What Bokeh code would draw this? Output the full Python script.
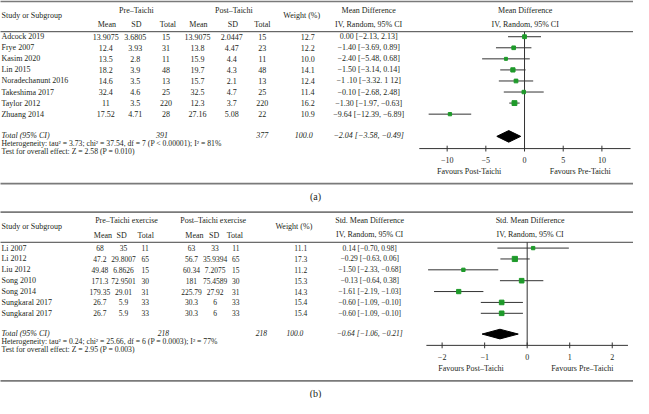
from bokeh.plotting import figure
from bokeh.models import Range1d
from bokeh.core.properties import value
from bokeh.embed import file_html
from bokeh.resources import INLINE

# ---------------- Panel (a) data ----------------
studies_a = ["Adcock 2019", "Frye 2007", "Kasim 2020", "Lin 2015", "Noradechanunt 2016",
             "Takeshima 2017", "Taylor 2012", "Zhuang 2014"]
pre_mean_a = [13.9075, 12.4, 13.5, 18.2, 14.6, 32.4, 11, 17.52]
pre_sd_a = [3.6805, 3.93, 2.8, 3.9, 3.5, 4.6, 3.5, 4.71]
pre_n_a = [15, 31, 11, 48, 13, 25, 220, 28]
post_mean_a = [13.9075, 13.8, 15.9, 19.7, 15.7, 32.5, 12.3, 27.16]
post_sd_a = [2.0447, 4.47, 4.4, 4.3, 2.1, 4.7, 3.7, 5.08]
post_n_a = [15, 23, 11, 48, 13, 25, 220, 22]
weight_a = [12.7, 12.2, 10.0, 14.1, 12.4, 11.4, 16.2, 10.9]
md_a = [0.00, -1.40, -2.40, -1.50, -1.10, -0.10, -1.30, -9.64]
lo_a = [-2.13, -3.69, -5.48, -3.14, -3.32, -2.68, -1.97, -12.39]
hi_a = [2.13, 0.89, 0.68, 0.14, 1.12, 2.48, -0.63, -6.89]
ci_text_a = ["0.00 [−2.13, 2.13]", "−1.40 [−3.69, 0.89]", "−2.40 [−5.48, 0.68]",
             "−1.50 [−3.14, 0.14]", "−1 .10 [−3.32. 1 12]", "−0.10 [−2.68, 2.48]",
             "−1.30 [−1.97, −0.63]", "−9.64 [−12.39, −6.89]"]
total_a = [391, 377, 100.0]
pooled_a = [-2.04, -3.58, -0.49]
ticks_a = [-10, -5, 0, 5, 10]
het_a = "Heterogeneity: tau² = 3.73; chi² = 37.54, df = 7 (P < 0.00001); I² = 81%"
test_a = "Test for overall effect: Z = 2.58 (P = 0.010)"

# ---------------- Panel (b) data ----------------
studies_b = ["Li 2007", "Li 2012", "Liu 2012", "Song 2010", "Song 2014",
             "Sungkaral 2017", "Sungkaral 2017"]
pre_mean_b = [68, 47.2, 49.48, 171.3, 179.35, 26.7, 26.7]
pre_sd_b = [35, 29.8007, 6.8626, 72.9501, 29.01, 5.9, 5.9]
pre_n_b = [11, 65, 15, 30, 31, 33, 33]
post_mean_b = [63, 56.7, 60.34, 181, 225.79, 30.3, 30.3]
post_sd_b = [33, 35.9394, 7.2075, 75.4589, 27.92, 6, 6]
post_n_b = [11, 65, 15, 30, 31, 33, 33]
weight_b = [11.1, 17.3, 11.2, 15.3, 14.3, 15.4, 15.4]
md_b = [0.14, -0.29, -1.50, -0.13, -1.61, -0.60, -0.60]
lo_b = [-0.70, -0.63, -2.33, -0.64, -2.19, -1.09, -1.09]
hi_b = [0.98, 0.06, -0.68, 0.38, -1.03, -0.10, -0.10]
total_b = [218, 218, 100.0]
pooled_b = [-0.64, -1.06, -0.21]
ticks_b = [-2, -1, 0, 1, 2]
het_b = "Heterogeneity: tau² = 0.24; chi² = 25.66, df = 6 (P = 0.0003); I² = 77%"
test_b = "Test for overall effect: Z = 2.95 (P = 0.003)"

FONT = value("Liberation Serif")
TXT = "#231f20"
GREEN = "#1e9a2a"
LINE = "#333333"


def fmt(v):
    return f"{v:g}".replace("-", "−")


def fmt2(v):
    return f"{v:.2f}".replace("-", "−")


X0, X1 = 2, 645
p = figure(width=633, height=398, x_range=Range1d(X0, X1), y_range=Range1d(412, 0),
           output_backend="svg", toolbar_location=None, x_axis_type=None, y_axis_type=None,
           min_border=0, outline_line_color=None, background_fill_color="white",
           border_fill_color="white")

# effect-scale ranges for the forest plots (zero position, px per unit)
ZA, KA = 534.3, 7.86
ZB, KB = 537.0, 43.2
p.extra_x_ranges = {
    "ea": Range1d((X0 - ZA) / KA, (X1 - ZA) / KA),
    "eb": Range1d((X0 - ZB) / KB, (X1 - ZB) / KB),
}


def txt(xs, ys, texts, align="center", size="8px", style="normal", xr="default"):
    p.text(x=xs, y=ys, text=texts, text_font=FONT, text_font_size=size,
           text_font_style=style, text_align=align, text_baseline="middle",
           text_color=TXT, x_range_name=xr)


def panel(d):
    top = d["top"]
    n = len(d["studies"])
    rows = [top + d["row0"] + i * d["step"] for i in range(n)]
    ytot = rows[-1] + d["gap"]
    nsz = d["nsz"]
    # rules
    p.segment(x0=[-5, -5], y0=[top, top + d["bottom"]], x1=[660, 660],
              y1=[top, top + d["bottom"]], line_color="#7a7a7a", line_width=1.8)
    p.segment(x0=[-5], y0=[top + d["hrule"]], x1=[660], y1=[top + d["hrule"]],
              line_color="#444444", line_width=1)
    # headers
    c = d["cols"]
    txt([3], [top + 14.5], ["Study or Subgroup"], align="left")
    txt([d["grp"][0], d["grp"][1]], [top + 9, top + 9], d["grp_labels"])
    txt(d["sub_x"], [top + 24] * 6, ["Mean", "SD", "Total", "Mean", "SD", "Total"])
    txt([d["wh"]], [top + 14.5], ["Weight (%)"])
    txt([c[7], c[7]], [top + 9, top + 23.5], [d["md_label"], "IV, Random, 95% CI"])
    txt([d["rh"], d["rh"]], [top + 9, top + 23.5], [d["md_label"], "IV, Random, 95% CI"])
    # table body
    txt([3] * n, rows, d["studies"], align="left")
    cols = [d["pre_mean"], d["pre_sd"], d["pre_n"], d["post_mean"], d["post_sd"], d["post_n"]]
    for j, vals in enumerate(cols):
        txt([c[j]] * n, rows, [fmt(v) for v in vals], size=nsz)
    txt([c[6]] * n, rows, [f"{w:.1f}" for w in d["weight"]], size=nsz)
    txt([c[7]] * n, rows, d["ci_text"], size=nsz)
    # total row
    tot = d["total"]
    txt([3], [ytot], ["Total (95% CI)"], align="left", style="italic")
    txt(d["tot_x"], [ytot] * 3, [str(tot[0]), str(tot[1]), f"{tot[2]:.1f}"],
        style="italic", size=nsz)
    pm, pl, ph = d["pooled"]
    txt([c[7]], [ytot], [f"{fmt2(pm)} [{fmt2(pl)}, {fmt2(ph)}]"], style="italic", size=nsz)
    txt([3, 3], [ytot + 8.5, ytot + 17], [d["het"], d["test"]], align="left", size="7.7px")
    # forest plot
    xr = d["xr"]
    yax = top + d["axis"]
    p.segment(x0=[0], y0=[top + d["hrule"]], x1=[0], y1=[yax], line_color=LINE,
              line_width=1, x_range_name=xr)
    p.segment(x0=d["lo"], y0=rows, x1=d["hi"], y1=rows, line_color=LINE, line_width=1,
              x_range_name=xr)
    p.scatter(x=d["md"], y=rows, marker="square", size=[0.3 * w for w in d["weight"]],
              color=GREEN, x_range_name=xr)
    yd = ytot + 1
    hh = d["dh"]
    p.patch(x=[pl, pm, ph, pm], y=[yd, yd - hh, yd, yd + hh], color="black", x_range_name=xr)
    # axis
    t = d["ticks"]
    p.segment(x0=[d["ax_ext"][0]], y0=[yax], x1=[d["ax_ext"][1]], y1=[yax], line_color=LINE,
              line_width=1, x_range_name=xr)
    p.segment(x0=t, y0=[yax - 3] * len(t), x1=t, y1=[yax + 3] * len(t), line_color=LINE,
              line_width=1, x_range_name=xr)
    txt(t, [yax + 12] * len(t), [fmt(v) for v in t], xr=xr)
    txt(d["fav_x"], [yax + 24, yax + 24], d["fav"])
    txt([322], [top + d["bottom"] + 13], [d["tag"]], size="10px")


panel(dict(top=1, row0=36.5, step=11.45, gap=22, hrule=31.3, bottom=188.5, axis=152.3,
           studies=studies_a, pre_mean=pre_mean_a, pre_sd=pre_sd_a, pre_n=pre_n_a,
           post_mean=post_mean_a, post_sd=post_sd_a, post_n=post_n_a, weight=weight_a,
           md=md_a, lo=lo_a, hi=hi_a, ci_text=ci_text_a, total=total_a, pooled=pooled_a,
           ticks=ticks_a, het=het_a, test=test_a, xr="ea", ax_ext=(-13.6, 13.7),
           cols=[109, 139, 170, 202, 237, 268, 314, 376], nsz="8px", dh=6,
           sub_x=[110, 140, 172, 203, 238, 268], grp=[140, 239],
           grp_labels=["Pre–Taichi", "Post–Taichi"], wh=308, rh=535,
           md_label="Mean Difference", tot_x=[166, 268, 310],
           fav_x=[478, 591], fav=["Favours Post-Taichi", "Favours Pre-Taichi"], tag="(a)"))

panel(dict(top=219, row0=37.3, step=11.25, gap=20.5, hrule=31.3, bottom=174.7, axis=138,
           studies=studies_b, pre_mean=pre_mean_b, pre_sd=pre_sd_b, pre_n=pre_n_b,
           post_mean=post_mean_b, post_sd=post_sd_b, post_n=post_n_b, weight=weight_b,
           md=md_b, lo=lo_b, hi=hi_b,
           ci_text=[f"{fmt2(m)} [{fmt2(a)}, {fmt2(b)}]" for m, a, b in zip(md_b, lo_b, hi_b)],
           total=total_b, pooled=pooled_b, ticks=ticks_b, het=het_b, test=test_b, xr="eb",
           ax_ext=(-2.37, 2.37), cols=[103, 127, 149, 196, 220, 241, 307, 377],
           nsz="7.5px", dh=5,
           sub_x=[106, 125, 149.5, 199, 219, 240], grp=[130, 218],
           grp_labels=["Pre–Taichi exercise", "Post–Taichi exercise"], wh=300, rh=540,
           md_label="Std. Mean Difference", tot_x=[167.5, 267, 301],
           fav_x=[480, 593], fav=["Favours Post–Taichi", "Favours Pre–Taichi"], tag="(b)"))

open("out.html", "w").write(file_html(p, INLINE))
